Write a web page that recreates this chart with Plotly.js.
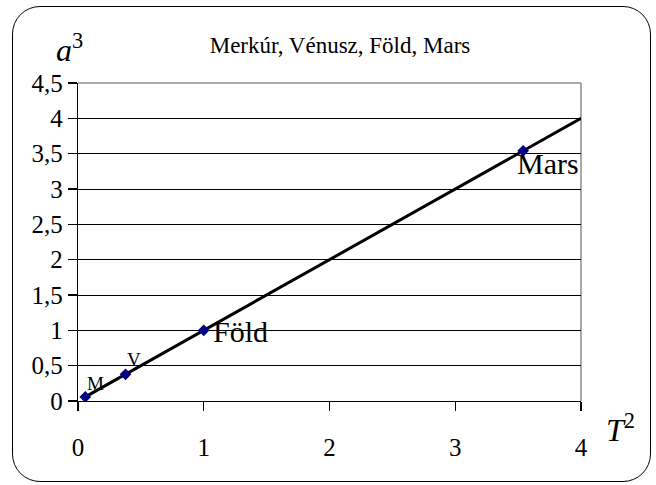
<!DOCTYPE html>
<html>
<head>
<meta charset="utf-8">
<script src="https://cdn.plot.ly/plotly-3.0.1.min.js"></script>
<style>
  html, body { margin: 0; padding: 0; background: #fff; }
  #wrap { position: relative; width: 656px; height: 485px; overflow: hidden; }
  #chart { position: absolute; left: 0; top: 0; width: 656px; height: 485px; }
  #frame { position: absolute; left: 12px; top: 6px; width: 637px; height: 474px;
           border: 1.6px solid #000; border-radius: 28px; pointer-events: none; }
</style>
</head>
<body>
<div id="wrap">
  <div id="chart"></div>
  <div id="frame"></div>
</div>
<script>
// ---- data ----
const planetLabels = ['M', 'V', 'Föld', 'Mars'];
const periodSquared = [0.058, 0.378, 1.0, 3.54];   // T^2 (years^2)
const axisCubed = [0.058, 0.378, 1.0, 3.54];       // a^3 (AU^3)
const fitLineX = [0.058, 4];
const fitLineY = [0.058, 4];
const xTickValues = [0, 1, 2, 3, 4];
const xTickLabels = ['0', '1', '2', '3', '4'];
const yTickValues = [0, 0.5, 1, 1.5, 2, 2.5, 3, 3.5, 4, 4.5];
const yTickLabels = ['0', '0,5', '1', '1,5', '2', '2,5', '3', '3,5', '4', '4,5'];
const chartTitle = 'Merkúr, Vénusz, Föld, Mars';

// ---- layout geometry ----
const W = 656, H = 485;
const L = 78, R = 581, T = 83, B = 401;
const px = x => (x - L) / (R - L);
const py = y => (B - y) / (B - T);
const serif = 'Liberation Serif';

// label styles (per label)
const labelStyle = [
  { size: 19, xanchor: 'left', yanchor: 'middle', xshift: 0, yshift: 13 },
  { size: 19, xanchor: 'left', yanchor: 'middle', xshift: -1, yshift: 15 },
  { size: 30, xanchor: 'left', yanchor: 'middle', xshift: 7, yshift: -1 },
  { size: 30, xanchor: 'left', yanchor: 'middle', xshift: -8, yshift: -13 }
];

const traces = [
  {
    x: fitLineX, y: fitLineY, type: 'scatter', mode: 'lines',
    line: { color: '#000', width: 3 }, hoverinfo: 'skip', showlegend: false
  },
  {
    x: periodSquared, y: axisCubed, type: 'scatter', mode: 'markers',
    marker: { symbol: 'diamond', color: '#000080', size: 9 },
    showlegend: false
  }
];

const annotations = planetLabels.map((t, i) => ({
  x: periodSquared[i], y: axisCubed[i], xref: 'x', yref: 'y',
  text: t, showarrow: false,
  xanchor: labelStyle[i].xanchor, yanchor: labelStyle[i].yanchor,
  xshift: labelStyle[i].xshift, yshift: labelStyle[i].yshift,
  font: { family: serif, size: labelStyle[i].size, color: '#000' }
}));

annotations.push({
  xref: 'paper', yref: 'paper', x: px(54), y: py(48),
  xanchor: 'left', yanchor: 'middle', showarrow: false,
  text: '<i>a</i><sup>3</sup>',
  font: { family: serif, size: 32, color: '#000' }
});
annotations.push({
  xref: 'paper', yref: 'paper', x: px(604), y: py(428),
  xanchor: 'left', yanchor: 'middle', showarrow: false,
  text: '<i>T</i><sup>2</sup>',
  font: { family: serif, size: 32, color: '#000' }
});

const layout = {
  width: W, height: H,
  margin: { l: L, r: W - R, t: T, b: H - B, pad: 0 },
  paper_bgcolor: '#fff', plot_bgcolor: '#fff',
  font: { family: serif, color: '#000' },
  title: {
    text: chartTitle, xref: 'paper', yref: 'container',
    x: px(340), xanchor: 'center', y: 1 - 45 / H, yanchor: 'middle',
    font: { family: serif, size: 23, color: '#000' }
  },
  xaxis: {
    range: [0, 4], tickvals: xTickValues, ticktext: xTickLabels,
    showgrid: false, zeroline: false,
    showline: true, linecolor: '#000', linewidth: 1.2,
    ticks: 'outside', ticklen: 9, tickwidth: 1.2, tickcolor: '#000',
    ticklabelstandoff: 15,
    tickfont: { family: serif, size: 25, color: '#000' },
    fixedrange: true
  },
  yaxis: {
    range: [0, 4.5], tickvals: yTickValues, ticktext: yTickLabels,
    showgrid: true, gridcolor: '#000', gridwidth: 1, zeroline: false,
    showline: true, linecolor: '#000', linewidth: 1.2,
    ticks: 'outside', ticklen: 9, tickwidth: 1.2, tickcolor: '#000',
    ticklabelstandoff: 0,
    tickfont: { family: serif, size: 25, color: '#000' },
    fixedrange: true
  },
  shapes: [
    { type: 'line', xref: 'paper', yref: 'paper', x0: 0, x1: 1, y0: 1, y1: 1,
      line: { color: '#8c8c8c', width: 1.5 }, layer: 'above' },
    { type: 'line', xref: 'paper', yref: 'paper', x0: 1, x1: 1, y0: 0, y1: 1,
      line: { color: '#8c8c8c', width: 1.5 }, layer: 'below' }
  ],
  annotations: annotations
};

Plotly.newPlot('chart', traces, layout, { displayModeBar: false, staticPlot: true });
</script>
</body>
</html>
